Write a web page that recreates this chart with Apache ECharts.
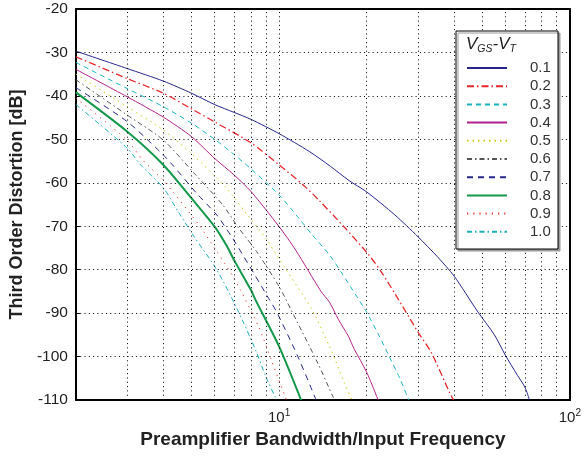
<!DOCTYPE html>
<html>
<head>
<meta charset="utf-8">
<script src="https://cdn.jsdelivr.net/npm/echarts@6/dist/echarts.min.js"></script>
<style>
  html, body { margin: 0; padding: 0; background: #fff; }
  #chart { width: 584px; height: 456px; }
</style>
</head>
<body>
<div id="chart"></div>
<script>
// curve values: [ratio, dB]
var c01 = [[2,-29.7],[3,-33.7],[4,-36.6],[5,-39.4],[6,-42],[7,-43.8],[8,-45.4],[10,-48.7],[12.7,-52.8],[15,-56.2],[17.4,-59.5],[20,-62.1],[25,-67.4],[30,-72.4],[35,-77],[40,-81.5],[48,-89.5],[55,-95],[60,-99.7],[66,-104.3],[70,-107],[72.6,-110]];
var c02 = [[2,-31],[3,-36],[4,-39.4],[5,-43],[6,-46],[8,-50.8],[10,-55.9],[12.1,-60.5],[13.7,-64],[16.7,-70.1],[20,-76],[22.3,-80.2],[25.8,-87],[27.9,-90.8],[30,-94.3],[33.5,-99.3],[38.7,-108.5],[39.8,-110]];
var c03 = [[2,-32.3],[3,-38.3],[4,-42.5],[5,-46.3],[6,-50],[7,-53.5],[8,-56.8],[10,-62.8],[11.7,-68.2],[13,-72],[14.9,-76.6],[16.5,-81],[18.5,-86.2],[20,-89.8],[22,-95],[23.8,-99.7],[26,-105],[27.9,-110]];
var c04 = [[2,-33.9],[3,-40.2],[4,-44.9],[5,-49.4],[6,-54.4],[7,-58.2],[8,-62],[10,-70.1],[11.4,-75.5],[13.9,-84.9],[14.9,-87.5],[16,-91.5],[17.3,-95.3],[18.1,-98.2],[20,-103.6],[21.9,-110]];
var c05 = [[2,-35],[3,-42.5],[4,-47.9],[5,-53.3],[6.6,-61.3],[7.7,-67],[9,-72.8],[9.8,-76.6],[10.5,-79.7],[13,-89.3],[14.9,-97.7],[15.6,-100.8],[16.8,-106.2],[17.8,-110]];
var c06 = [[2,-36.3],[3,-44.4],[4,-50.2],[5.1,-57.8],[6.4,-65.1],[7.2,-70.1],[8.36,-75.8],[10,-83.9],[11,-89.3],[13.6,-101.6],[15.3,-109.2],[15.5,-110]];
var c07 = [[2,-38.1],[3,-45.9],[3.9,-52.9],[4.3,-55.9],[5.2,-62.4],[6.1,-67.4],[6.8,-72],[7.5,-76.6],[9.2,-86.6],[9.8,-89.7],[11.6,-100],[13.4,-110]];
var c08 = [[2,-39.2],[3,-48.2],[4,-55.9],[5,-63.6],[6,-70.1],[6.6,-74.5],[7,-77.8],[8,-84.7],[8.3,-87],[10,-97.7],[11.9,-110]];
var c09 = [[2,-40.5],[3,-50.2],[3.4,-54.8],[4,-59.5],[4.3,-62],[5.3,-69.7],[6.1,-75.8],[7,-82],[8.5,-93.1],[9.4,-100.8],[10.6,-110]];
var c10 = [[2,-42],[3,-52],[3.34,-55.9],[4,-61.2],[4.5,-66.7],[5.1,-72.4],[6.1,-80],[7.2,-89.3],[8.3,-98.5],[9,-104.6],[9.8,-110]];

var names = ['0.1','0.2','0.3','0.4','0.5','0.6','0.7','0.8','0.9','1.0'];
var curves = [c01,c02,c03,c04,c05,c06,c07,c08,c09,c10];
var vGrid = [3,4,5,6,7,8,9,10,20,30,40,50,60,70,80,90];

var font = 'Liberation Sans, Arial, sans-serif';
var dots = [1, 3.3];

// colour, dash, width per curve
var looks = [
  ['#25258c', 'solid', 1],
  ['#e8262b', [7,3,1.5,3], 1.3],
  ['#19b4c0', [5,4], 1],
  ['#b2218c', 'solid', 1],
  ['#cccc1a', [1.5,4], 1],
  ['#555555', [5,3,1.5,3], 1],
  ['#25258c', [6,5], 1],
  ['#14994a', 'solid', 2],
  ['#e03030', [1.2,5], 1],
  ['#19b0b8', [5,3,1.5,3], 1]
];

var series = curves.map(function (d, i) {
  return {
    name: names[i],
    type: 'line',
    data: d,
    symbol: 'none',
    smooth: 0.25,
    z: 3,
    clip: true,
    lineStyle: { color: looks[i][0], type: looks[i][1], width: looks[i][2] },
    itemStyle: { color: looks[i][0] }
  };
});
// vertical grid lines at the log minor positions
series.push({
  name: 'grid',
  type: 'line',
  data: [],
  z: 1,
  markLine: {
    silent: true,
    symbol: ['none', 'none'],
    label: { show: false },
    lineStyle: { color: '#000', type: dots, width: 1 },
    data: vGrid.map(function (v) { return { xAxis: v }; })
  }
});

var myChart = echarts.init(document.getElementById('chart'));
var option = {
  animation: false,
  backgroundColor: '#fff',
  grid: { left: 75, right: 13, top: 9, bottom: 56 },
  xAxis: [{
    type: 'log',
    min: 2,
    max: 100,
    name: 'Preamplifier Bandwidth/Input Frequency',
    nameLocation: 'middle',
    nameGap: 28,
    nameTextStyle: { fontFamily: font, fontSize: 19, fontWeight: 'bold', color: '#222' },
    axisLine: { lineStyle: { color: '#000', width: 2 } },
    axisTick: { show: false },
    splitLine: { show: false },
    axisLabel: {
      margin: 8,
      formatter: function (v) {
        if (Math.abs(v - 10) < 1e-6) return '{b|10}{s|1}';
        if (Math.abs(v - 100) < 1e-6) return '{b|10}{s|2}';
        return '';
      },
      rich: {
        b: { fontFamily: font, fontSize: 15, color: '#222' },
        s: { fontFamily: font, fontSize: 10, color: '#222', padding: [0, 0, 10, 0] }
      }
    }
  }, {
    type: 'log',
    min: 2,
    max: 100,
    position: 'top',
    axisLine: { lineStyle: { color: '#000', width: 2 } },
    axisTick: { show: false },
    axisLabel: { show: false },
    splitLine: { show: false }
  }],
  yAxis: [{
    type: 'value',
    min: -110,
    max: -20,
    interval: 10,
    name: 'Third Order Distortion [dB]',
    nameLocation: 'middle',
    nameGap: 47,
    nameTextStyle: { fontFamily: font, fontSize: 18, fontWeight: 'bold', color: '#222' },
    axisLine: { lineStyle: { color: '#000', width: 2 } },
    axisTick: { inside: true, length: 4, lineStyle: { color: '#000' } },
    axisLabel: { fontFamily: font, fontSize: 15.5, color: '#222', margin: 8 },
    splitLine: { lineStyle: { color: '#000', type: dots, width: 1 } }
  }, {
    type: 'value',
    min: -110,
    max: -20,
    interval: 10,
    position: 'right',
    axisLine: { show: true, lineStyle: { color: '#000', width: 2 } },
    axisTick: { show: false },
    axisLabel: { show: false },
    splitLine: { show: false }
  }],
  legend: {
    data: names,
    orient: 'vertical',
    left: 466,
    top: 60.5,
    padding: 0,
    itemWidth: 40,
    itemHeight: 10,
    itemGap: 3.2,
    z: 60,
    itemStyle: { opacity: 0 },
    textStyle: { fontFamily: font, fontSize: 15, color: '#333', padding: [0, 0, 0, 18] }
  },
  graphic: [{
    type: 'rect',
    z: 50,
    shape: { x: 456, y: 31, width: 102, height: 218 },
    style: { fill: '#fff', stroke: '#000', lineWidth: 1, shadowColor: '#999', shadowOffsetX: 2, shadowOffsetY: 2, shadowBlur: 0 }
  }, {
    type: 'text',
    z: 60,
    left: 466,
    top: 36,
    style: {
      text: '{v|V}{s|GS}{v|-V}{s|T}',
      rich: {
        v: { fontFamily: font, fontSize: 17, fontStyle: 'italic', fill: '#222', verticalAlign: 'bottom' },
        s: { fontFamily: font, fontSize: 10.5, fontStyle: 'italic', fill: '#222', verticalAlign: 'bottom', padding: [0, 0, -2, 0] }
      }
    }
  }],
  series: series
};
myChart.setOption(option);
</script>
</body>
</html>
